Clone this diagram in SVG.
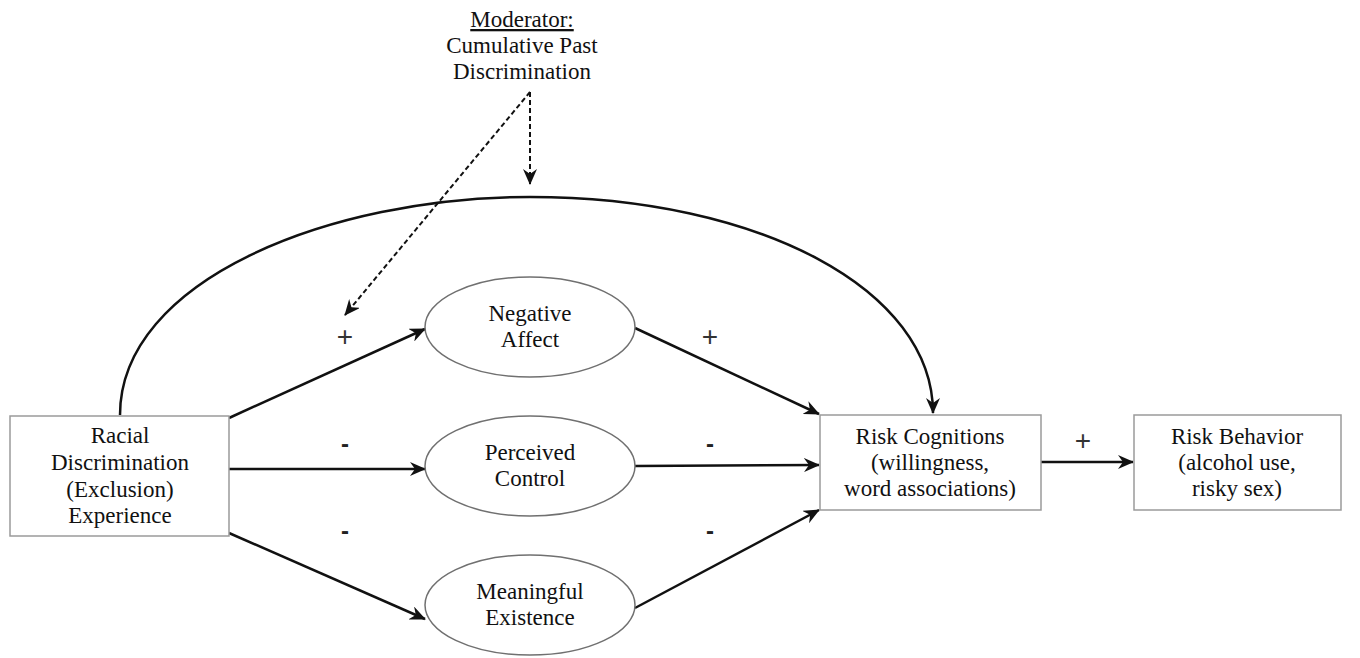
<svg xmlns="http://www.w3.org/2000/svg" width="1360" height="658" viewBox="0 0 1360 658">
<defs>
<style>
text{font-family:"Liberation Serif","Times New Roman",serif;font-size:23px;fill:#111;text-anchor:middle}
.box{fill:#fff;stroke:#9a9a9a;stroke-width:1.5}
.ell{fill:#fff;stroke:#707070;stroke-width:1.5}
.arr{fill:none;stroke:#111;stroke-width:2.5;marker-end:url(#ah)}
.dash{fill:none;stroke:#111;stroke-width:2;stroke-dasharray:5,3;marker-end:url(#ah)}
.plus{font-family:"Liberation Sans",Arial,sans-serif;font-size:28px;fill:#333}
.minus{font-family:"Liberation Sans",Arial,sans-serif;font-size:24px;font-weight:bold;fill:#222}
</style>
<marker id="ah" viewBox="0 0 16 14" refX="15" refY="7" markerWidth="16" markerHeight="14" markerUnits="userSpaceOnUse" orient="auto">
<path d="M0,0 L16,7 L0,14 L5,7 z" fill="#111"/>
</marker>
</defs>
<rect width="1360" height="658" fill="#fff"/>

<g id="connectors">
<path class="arr" d="M120,415 C120,280 330,197 530,197 C760,197 933,290 933,413"/>
<line class="arr" x1="229" y1="418" x2="425" y2="329"/>
<line class="arr" x1="229" y1="469" x2="425" y2="469"/>
<line class="arr" x1="229" y1="533" x2="425" y2="619"/>
<line class="arr" x1="635" y1="328" x2="819" y2="414"/>
<line class="arr" x1="635" y1="466" x2="819" y2="465"/>
<line class="arr" x1="635" y1="608" x2="819" y2="510"/>
<line class="arr" x1="1041" y1="462" x2="1133" y2="462"/>
<line class="dash" x1="530" y1="92" x2="530" y2="184"/>
<line class="dash" x1="530" y1="92" x2="345" y2="315"/>
</g>

<g id="labels">
<text class="plus" x="345" y="346">+</text>
<text class="minus" x="345" y="452">-</text>
<text class="minus" x="345" y="539">-</text>
<text class="plus" x="710" y="346">+</text>
<text class="minus" x="710" y="452">-</text>
<text class="minus" x="710" y="539">-</text>
<text class="plus" x="1083" y="450">+</text>
</g>

<g id="moderator">
<text x="522" y="27" text-decoration="underline">Moderator:</text>
<text x="522" y="53">Cumulative Past</text>
<text x="522" y="79">Discrimination</text>
</g>

<g id="racial-discrimination">
<rect class="box" x="10" y="416" width="219" height="120"/>
<text x="120" y="443">Racial</text>
<text x="120" y="470">Discrimination</text>
<text x="120" y="497">(Exclusion)</text>
<text x="120" y="523">Experience</text>
</g>

<g id="negative-affect">
<ellipse class="ell" cx="530" cy="327" rx="105" ry="50"/>
<text x="530" y="321">Negative</text>
<text x="530" y="347">Affect</text>
</g>

<g id="perceived-control">
<ellipse class="ell" cx="530" cy="466" rx="105" ry="50"/>
<text x="530" y="460">Perceived</text>
<text x="530" y="486">Control</text>
</g>

<g id="meaningful-existence">
<ellipse class="ell" cx="530" cy="605" rx="105" ry="50"/>
<text x="530" y="599">Meaningful</text>
<text x="530" y="625">Existence</text>
</g>

<g id="risk-cognitions">
<rect class="box" x="820" y="415" width="221" height="95"/>
<text x="930" y="444">Risk Cognitions</text>
<text x="930" y="470">(willingness,</text>
<text x="930" y="496">word associations)</text>
</g>

<g id="risk-behavior">
<rect class="box" x="1134" y="415" width="207" height="95"/>
<text x="1237" y="444">Risk Behavior</text>
<text x="1237" y="470">(alcohol use,</text>
<text x="1237" y="496">risky sex)</text>
</g>
</svg>
